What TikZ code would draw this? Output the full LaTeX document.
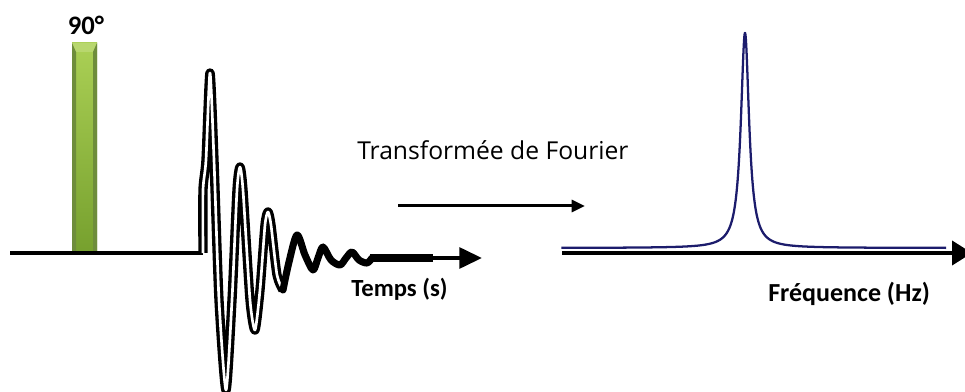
\documentclass[tikz,border=0pt]{standalone}
\usepackage{fontspec}
\setmainfont{Carlito}
\newfontfamily\osans{Open Sans}
\usetikzlibrary{arrows.meta}
\definecolor{navy}{HTML}{1C1C6C}
\definecolor{gbody}{HTML}{8FB83C}
\definecolor{gtop}{HTML}{ABD055}
\definecolor{gedge}{HTML}{76A02E}
\tikzset{
  lab/.style={inner sep=0pt, font=\bfseries\fontsize{18.5}{20}\selectfont},
  axisline/.style={line width=3pt, black},
  fidline/.style={line width=2.5pt, double=white, double distance=2pt, black, line join=round},
  fidsolid/.style={line width=5.3pt, black, line join=round, line cap=round},
}
\begin{document}
\begin{tikzpicture}[x=0.75pt, y=-0.75pt]
\useasboundingbox (0,0) rectangle (965,392);
% green 90 degree pulse
\shade[top color=gtop, bottom color=gedge] (72,43) rectangle (97,253);
\fill[gtop!85!white] (72,43) -- (97,43) -- (93,52) -- (76,52) -- cycle;
\fill[gedge!80!black!90!white] (72,43) -- (76,52) -- (76,253) -- (72,253) -- cycle;
\fill[gedge!80!black!90!white] (97,43) -- (93,52) -- (93,253) -- (97,253) -- cycle;
\node[lab, font=\bfseries\fontsize{20}{22}\selectfont, anchor=base] (deg) at (86,35) {90°};
% left baseline
\coordinate (b0) at (10,253);
\coordinate (b1) at (203,253);
\draw[axisline] (b0) -- (b1);
% FID
\draw[fidline] plot[smooth, tension=0.4] coordinates {(203,253) (203,190) (206,160) (210,73) (214,160) (219,300) (226,390) (232,300) (237,190) (240,167) (243,190) (250,300) (255,330) (260,290) (265,225) (268,212) (271,225) (277,275) (283,290)};
\draw[fidsolid] plot[smooth, tension=0.5] coordinates {(283,290) (289,262) (297,235) (305,255) (313,270) (318,258) (323,247) (331,260) (340,265) (346,258) (352,252) (359,260) (367,263) (372,258)};
\coordinate (t0) at (370,258);
\coordinate (t1) at (433,258);
\coordinate (t2) at (482,258);
\draw[line width=6pt] (t0) -- (t1);
\draw[line width=3pt, -{Triangle[length=17pt, width=15.5pt]}] (t1) -- (t2);
\node[lab, anchor=base west] (tps) at (351,297) {Temps (s)};
% Fourier transform arrow
\node[inner sep=0pt, anchor=base west, font=\osans\fontsize{18.5}{21}\selectfont] (ft) at (357,160) {Transformée de Fourier};
\coordinate (f0) at (398,206);
\coordinate (f1) at (585,206);
\draw[line width=2.25pt, -{Triangle[length=10pt, width=9pt]}] (f0) -- (f1);
% spectrum
\coordinate (s0) at (562,253);
\coordinate (s1) at (972,253);
\draw[line width=3pt, -{Triangle[length=15pt, width=18pt]}] (s0) -- (s1);
\draw[navy, line width=1.7pt, line join=round] plot[domain=-88.44:88.58, samples=400] ({745+5*tan(\x)}, {248-215*cos(\x)^2});
\node[lab, font=\bfseries\fontsize{19.5}{21}\selectfont, anchor=base west] (freq) at (768,302) {Fréquence (Hz)};
\end{tikzpicture}
\end{document}
